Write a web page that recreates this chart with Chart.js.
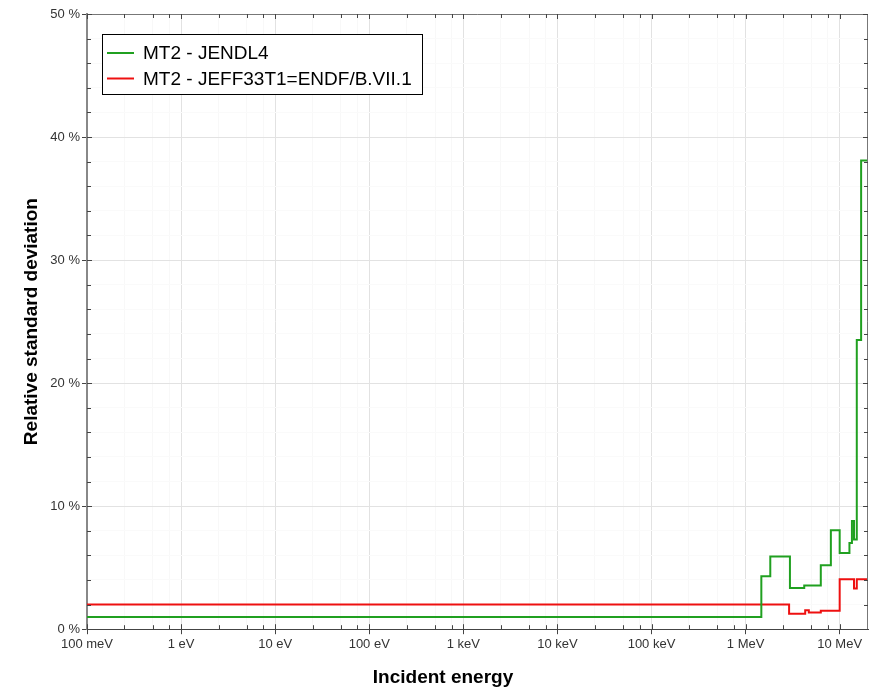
<!DOCTYPE html>
<html>
<head>
<meta charset="utf-8">
<script src="https://cdn.jsdelivr.net/npm/chart.js@4.4.1/dist/chart.umd.min.js"></script>
<style>
  body { margin: 0; background: #fff; }
  canvas { display: block; }
</style>
</head>
<body>
<canvas id="stdChart" width="870" height="691"></canvas>
<script>
// incident energy in eV, each value holds until the next energy
const jendlEnergy = [0.1, 1.47e6, 1.83e6, 2.96e6, 4.2e6, 6.3e6, 8.06e6, 1.0e7, 1.27e7, 1.35e7, 1.42e7, 1.52e7, 1.69e7, 2.0e7];
const jendlValues = [1.0, 4.3, 5.9, 3.35, 3.55, 5.2, 8.05, 6.2, 7.0, 8.8, 7.3, 23.5, 38.1, 38.1];

const jeffEnergy = [0.1, 2.9e6, 4.3e6, 4.7e6, 6.3e6, 1.0e7, 1.42e7, 1.52e7, 2.0e7];
const jeffValues = [2.0, 1.25, 1.55, 1.35, 1.5, 4.05, 3.3, 4.05, 4.05];

const seriesLabels = ['MT2 - JENDL4', 'MT2 - JEFF33T1=ENDF/B.VII.1'];

const xTickValues = [0.1, 1, 10, 100, 1e3, 1e4, 1e5, 1e6, 1e7];
const xTickLabels = ['100 meV', '1 eV', '10 eV', '100 eV', '1 keV', '10 keV', '100 keV', '1 MeV', '10 MeV'];

const xMin = 0.1, xMax = 2e7;

function toPoints(xs, ys) {
  return xs.map((x, i) => ({ x: x, y: ys[i] }));
}

function majorIndex(v) {
  for (let i = 0; i < xTickValues.length; i++) {
    if (Math.abs(v / xTickValues[i] - 1) < 1e-6) return i;
  }
  return -1;
}

// inward ticks on all four sides plus a frame round the plot
const frameTicks = {
  id: 'frameTicks',
  afterDraw(chart) {
    const { ctx, chartArea: a, scales } = chart;
    ctx.save();
    ctx.strokeStyle = '#777';
    ctx.lineWidth = 1;
    ctx.beginPath();
    ctx.moveTo(a.left, a.top + 0.5);
    ctx.lineTo(a.right - 0.5, a.top + 0.5);
    ctx.lineTo(a.right - 0.5, a.bottom);
    ctx.stroke();

    ctx.strokeStyle = '#444';
    ctx.beginPath();
    scales.x.ticks.forEach(t => {
      const px = Math.round(scales.x.getPixelForValue(t.value)) + 0.5;
      const len = majorIndex(t.value) >= 0 ? 5 : 4;
      ctx.moveTo(px, a.bottom); ctx.lineTo(px, a.bottom - len);
      ctx.moveTo(px, a.top); ctx.lineTo(px, a.top + len);
    });
    scales.y.ticks.forEach(t => {
      const py = Math.round(scales.y.getPixelForValue(t.value)) + 0.5;
      const len = t.value % 10 === 0 ? 5 : 4;
      ctx.moveTo(a.left, py); ctx.lineTo(a.left + len, py);
      ctx.moveTo(a.right, py); ctx.lineTo(a.right - len, py);
    });
    ctx.stroke();
    ctx.restore();
  }
};

// boxed legend inside the plot area
const boxLegend = {
  id: 'boxLegend',
  afterDraw(chart) {
    const { ctx, chartArea: a } = chart;
    const bx = a.left + 15, by = a.top + 20, bw = 320, bh = 60;
    ctx.save();
    ctx.fillStyle = '#fff';
    ctx.fillRect(bx, by, bw, bh);
    ctx.strokeStyle = '#000';
    ctx.lineWidth = 1;
    ctx.strokeRect(bx + 0.5, by + 0.5, bw, bh);
    ctx.font = '19px "Liberation Sans", Arial, sans-serif';
    ctx.textBaseline = 'middle';
    chart.data.datasets.forEach((ds, i) => {
      const yy = by + 19 + i * 25.5;
      ctx.strokeStyle = ds.borderColor;
      ctx.lineWidth = 2;
      ctx.beginPath();
      ctx.moveTo(bx + 5, yy);
      ctx.lineTo(bx + 32, yy);
      ctx.stroke();
      ctx.fillStyle = '#000';
      ctx.fillText(ds.label, bx + 41, yy + 1);
    });
    ctx.restore();
  }
};

new Chart(document.getElementById('stdChart').getContext('2d'), {
  type: 'line',
  data: {
    datasets: [{
      label: seriesLabels[0],
      data: toPoints(jendlEnergy, jendlValues),
      borderColor: '#20a020',
      borderWidth: 2,
      stepped: true,
      pointRadius: 0,
      fill: false
    }, {
      label: seriesLabels[1],
      data: toPoints(jeffEnergy, jeffValues),
      borderColor: '#ee1010',
      borderWidth: 2,
      stepped: true,
      pointRadius: 0,
      fill: false
    }]
  },
  options: {
    responsive: false,
    animation: false,
    layout: { padding: { left: 18, top: 14, right: 2, bottom: 0 } },
    plugins: {
      legend: { display: false },
      tooltip: { enabled: false },
      title: {
        display: true,
        position: 'bottom',
        text: 'Incident energy',
        color: '#000',
        font: { family: '"Liberation Sans", Arial, sans-serif', size: 19, weight: 'bold' },
        padding: { top: 0, bottom: 2 }
      }
    },
    scales: {
      x: {
        type: 'logarithmic',
        min: xMin,
        max: xMax,
        afterBuildTicks(scale) {
          const ticks = [];
          xTickValues.forEach(d => {
            ticks.push({ value: d });
            [2.5, 5, 7.5].forEach(m => { if (d * m < xMax) ticks.push({ value: d * m }); });
          });
          scale.ticks = ticks;
        },
        afterFit(scale) { scale.height = 37; },
        ticks: {
          autoSkip: false,
          maxRotation: 0,
          padding: 2,
          color: '#333',
          font: { family: '"Liberation Sans", Arial, sans-serif', size: 13 },
          callback(v) {
            const i = majorIndex(v);
            return i >= 0 ? xTickLabels[i] : '';
          }
        },
        grid: {
          color: c => majorIndex(c.tick.value) >= 0 ? '#e2e2e2' : '#f8f8f8',
          tickColor: c => majorIndex(c.tick.value) >= 0 ? '#444' : 'rgba(0,0,0,0)',
          tickLength: 5
        },
        border: { color: '#444', width: 1 }
      },
      y: {
        min: 0,
        max: 50,
        afterFit(scale) { scale.width = 69; },
        ticks: {
          stepSize: 2,
          padding: 2,
          color: '#333',
          font: { family: '"Liberation Sans", Arial, sans-serif', size: 13 },
          callback: v => (v % 10 === 0 ? v + ' %' : '')
        },
        grid: {
          color: c => c.tick.value % 10 === 0 ? '#e2e2e2' : '#fafafa',
          tickColor: c => c.tick.value % 10 === 0 ? '#444' : 'rgba(0,0,0,0)',
          tickLength: 5
        },
        border: { color: '#888', width: 2 },
        title: {
          display: true,
          text: 'Relative standard deviation',
          color: '#000',
          font: { family: '"Liberation Sans", Arial, sans-serif', size: 19, weight: 'bold' },
          padding: { top: 2, bottom: 0 }
        }
      }
    }
  },
  plugins: [frameTicks, boxLegend]
});
</script>
</body>
</html>
